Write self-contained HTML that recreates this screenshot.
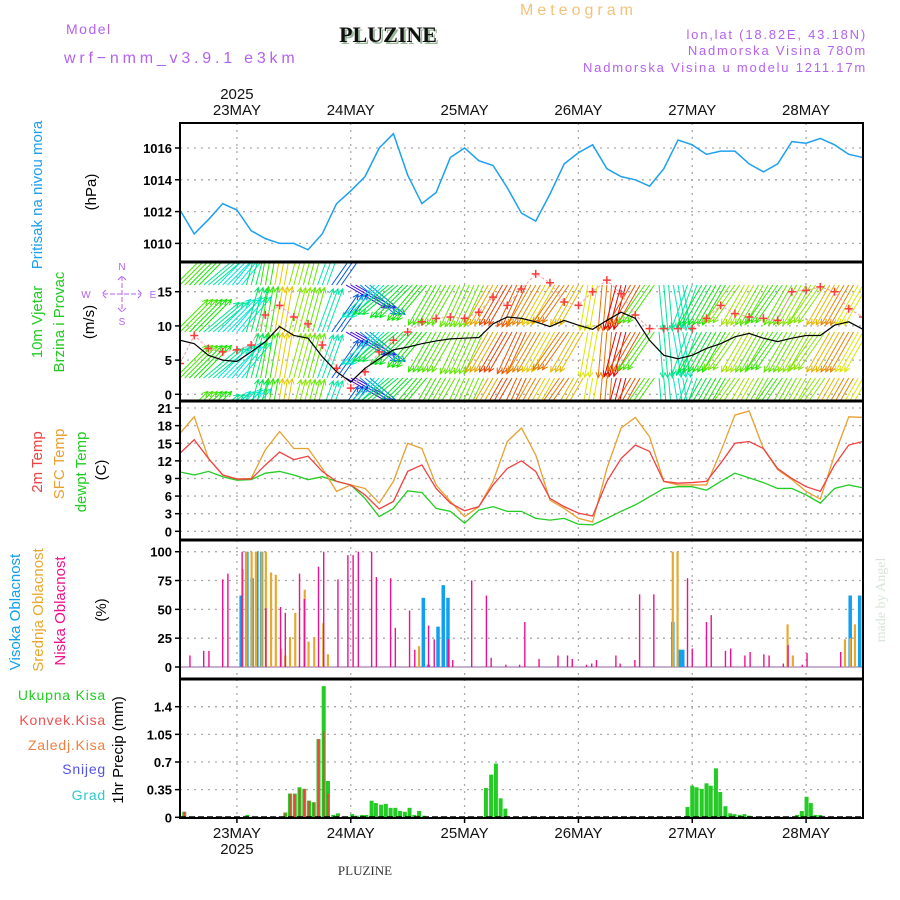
<!DOCTYPE html>
<html><head><meta charset="utf-8">
<style>
html,body{margin:0;padding:0;background:#fff;}
svg{display:block;font-family:"Liberation Sans",sans-serif;}
.nar{font-family:"Liberation Sans Narrow","Liberation Sans",sans-serif;}
</style></head>
<body>
<svg id="chart" width="900" height="900" viewBox="0 0 900 900" xmlns="http://www.w3.org/2000/svg">
  <text x="520" y="15" font-size="16" fill="#f2c27a" letter-spacing="4">Meteogram</text>
  <text x="66" y="34" font-size="14" fill="#b462f0" letter-spacing="1.5">Model</text>
  <text x="64" y="63" font-size="16" fill="#b462f0" letter-spacing="3.8">wrf−nmm_v3.9.1 e3km</text>
  <text x="390" y="44" font-size="22" font-weight="bold" font-family="Liberation Serif,serif" fill="#9ab89a" text-anchor="middle">PLUZINE</text>
  <text x="388" y="42" font-size="22" font-weight="bold" font-family="Liberation Serif,serif" fill="#111" text-anchor="middle">PLUZINE</text>
  <text x="867" y="39" font-size="13" fill="#b462f0" text-anchor="end" letter-spacing="1.8">lon,lat (18.82E, 43.18N)</text>
  <text x="867" y="55" font-size="13" fill="#b462f0" text-anchor="end" letter-spacing="1.8">Nadmorska Visina 780m</text>
  <text x="867" y="72" font-size="13" fill="#b462f0" text-anchor="end" letter-spacing="1.8">Nadmorska Visina u modelu 1211.17m</text>
  <text x="365" y="875" font-size="13" font-family="Liberation Serif,serif" fill="#333" text-anchor="middle">PLUZINE</text>
  <text transform="translate(885,600) rotate(-90)" font-size="14" font-family="Liberation Serif,serif" fill="#d8e4d8" text-anchor="middle">made by Angel</text>
  <g id="g"></g>
</svg>
<script>
const hours3 = [0,3,6,9,12,15,18,21,24,27,30,33,36,39,42,45,48,51,54,57,60,63,66,69,72,75,78,81,84,87,90,93,96,99,102,105,108,111,114,117,120,123,126,129,132,135,138,141,144];
const dayLabels = ["23MAY","24MAY","25MAY","26MAY","27MAY","28MAY"];
const dayHours = [12,36,60,84,108,132];
const pressure = [1012.1,1010.6,1011.5,1012.5,1012.1,1010.8,1010.3,1010.0,1010.0,1009.6,1010.6,1012.5,1013.3,1014.2,1016.0,1016.9,1014.3,1012.5,1013.2,1015.4,1016.0,1015.2,1014.9,1013.5,1011.9,1011.4,1013.1,1015.0,1015.7,1016.2,1014.7,1014.2,1014.0,1013.6,1014.7,1016.5,1016.2,1015.6,1015.8,1015.8,1015.0,1014.5,1015.0,1016.4,1016.3,1016.6,1016.2,1015.6,1015.4];
const windSpeed = [7.9,7.4,5.7,5.0,4.8,6.2,7.7,9.9,8.6,8.2,5.5,3.3,1.8,3.8,5.2,6.5,6.9,7.4,7.8,8.1,8.2,8.3,10.3,11.3,11.1,10.6,9.9,10.8,10.1,9.5,10.8,12.0,11.1,7.9,5.7,5.2,5.7,6.7,7.4,8.4,8.9,8.2,7.7,8.2,8.6,8.6,10.1,10.6,9.5];
const windGust = [4.5,8.6,6.7,6.2,6.5,7.2,11.6,13.0,11.3,10.3,7.2,3.8,0.9,3.3,6.2,7.9,9.1,10.6,11.1,11.3,11.1,12.0,14.2,13.0,15.4,17.6,16.3,13.5,13.0,15.0,16.7,14.7,11.6,9.6,9.6,9.6,9.6,11.1,13.0,11.8,11.3,11.1,10.8,15.0,15.2,15.7,15.0,12.5,11.3];
const windDir = [225,225,230,225,220,195,190,190,195,195,200,215,300,310,45,50,45,40,30,30,25,25,30,30,25,30,30,35,30,10,5,15,30,35,355,350,20,30,30,35,30,30,35,30,30,35,30,30,30];
const temp2m = [13.3,15.6,12.4,9.6,8.9,8.9,11.3,13.5,12.2,12.8,10.2,8.5,7.9,6.2,3.8,5.1,10.2,11.3,7.3,4.8,3.5,4.2,7.9,10.7,12.0,10.2,5.6,4.2,3.1,2.6,8.5,12.4,14.7,13.6,8.5,8.2,8.3,8.5,11.6,15.0,15.3,14.1,10.7,9.0,7.6,6.8,11.3,14.7,15.3];
const tempSfc = [16.7,19.5,12.4,9.6,8.9,9.0,13.9,17.0,14.1,14.1,10.7,6.8,7.9,7.3,4.8,8.5,15.0,14.1,7.9,5.1,2.5,4.2,8.5,15.3,17.6,13.0,5.3,3.9,2.2,1.6,10.7,17.6,19.4,16.1,8.5,7.9,7.9,7.9,13.6,19.8,20.5,14.1,10.5,8.8,6.8,5.5,13.0,19.5,19.4];
const tempDew = [10.1,9.6,10.2,9.3,8.7,8.8,9.9,10.2,9.6,8.8,9.3,8.5,7.9,5.6,2.5,3.9,6.9,6.6,3.9,3.4,1.4,3.6,4.2,3.4,3.4,2.2,1.9,2.2,1.2,1.1,2.2,3.4,4.5,5.9,7.3,7.6,7.6,7.0,8.5,9.9,9.1,8.3,7.3,7.3,6.2,4.8,7.3,7.9,7.4];
const lowCloudHours = [2.1,5.0,6.1,9.0,10.1,13.1,18.1,21.2,22.2,25.2,26.2,29.2,30.3,33.3,35.4,36.5,37.6,40.4,41.4,44.4,45.4,48.4,49.5,52.4,53.6,56.6,57.5,61.5,64.6,65.6,68.7,71.6,72.7,75.7,79.7,81.7,82.7,85.7,86.8,87.8,91.9,92.8,95.9,96.9,99.9,107.0,108.0,111.0,112.0,115.0,116.1,119.1,120.2,123.1,124.2,127.2,128.2,131.2,132.2,139.3,142.3,143.2];
const lowCloud = [10,14,14,76,81,100,51,52,47,81,59,87,100,76,97,97,100,100,78,77,34,49,15,36,24,24,6,75,62,8,2,2,39,7,10,10,7,2,3,6,10,3,6,63,63,77,16,39,45,14,16,10,13,11,10,3,19,2,12,13];
const midCloudHours = [13.2,14.0,15.1,16.0,17.2,18.1,19.2,20.2,21.3,22.2,23.2,24.3,26.3,27.1,28.3,30.2,31.2,50.4,103.9,104.9,128.1,129.2,140.2,141.3,142.3];
const midCloud = [85,100,100,100,100,100,82,80,16,10,26,47,67,22,26,38,11,18,100,100,37,10,24,25,37];
const highCloudHours = [12.9,14.1,15.2,16.2,17.2,51.3,52.4,54.4,55.5,56.5,103.9,105.3,106.0,141.3,143.3,145.0];
const highCloud = [62,100,77,100,100,60,2,35,71,60,39,15,15,62,62,100];
const precipHours = [0.9,14.2,22.2,23.2,24.2,25.2,26.2,27.2,28.2,29.2,30.3,31.2,32.3,33.3,36.3,37.3,38.4,39.3,40.4,41.3,42.4,43.4,44.4,45.4,46.4,47.4,48.4,49.4,50.4,51.4,64.5,65.6,66.6,67.6,68.6,107.0,108.0,108.9,110.0,111.0,111.9,113.0,113.9,115.0,116.0,116.9,118.0,119.0,120.0,130.1,131.1,132.1,133.0,134.0,135.0];
const precipTotal = [0.07,0.03,0.06,0.30,0.30,0.38,0.36,0.21,0.19,0.99,1.66,0.46,0.03,0.05,0.04,0.02,0.03,0.03,0.21,0.18,0.16,0.17,0.12,0.12,0.08,0.07,0.12,0.03,0.08,0.02,0.37,0.54,0.68,0.24,0.11,0.13,0.40,0.38,0.36,0.43,0.40,0.62,0.32,0.14,0.05,0.04,0.03,0.04,0.02,0.03,0.08,0.26,0.18,0.03,0.03];
const precipConv = [0.07,0,0.06,0.30,0.29,0.36,0.36,0.21,0.19,0.99,1.09,0.30,0,0.02,0,0,0,0,0,0,0,0,0,0,0,0,0,0,0.02,0,0,0,0,0,0,0,0,0,0,0,0,0,0,0,0,0,0,0,0,0,0,0,0,0,0];
const pTicks = [1010,1012,1014,1016];
const wTicks = [0,5,10,15];
const tTicks = [0,3,6,9,12,15,18,21];
const cTicks = [0,25,50,75,100];
const rTicks = [0,0.35,0.7,1.05,1.4];
const rTickLabels = ["0","0.35","0.7","1.05","1.4"];

const NS="http://www.w3.org/2000/svg";
const G=document.getElementById('g');
const L=180,R=863;
const X=t=>L+t*(R-L)/144;
const Yp=v=>148+(1016-v)*15.9;
const Yw=v=>394.3-v*6.84;
const Yt=v=>531.3-v*5.87;
const Yc=v=>667-v*1.153;
const Yr=v=>817.3-v*79;
function mk(tag,at,parent){const e=document.createElementNS(NS,tag);for(const k in at)e.setAttribute(k,at[k]);(parent||G).appendChild(e);return e;}
function txt(s,at,parent){const e=mk('text',at,parent);e.textContent=s;return e;}

const panels=[[123,262,'pressure'],[262,401,'wind'],[401,540,'temperature'],[540,679,'cloud'],[679,818,'precip']];
const defs=mk('defs',{});
panels.forEach(p=>{const c=mk('clipPath',{id:'clip-'+p[2]},defs);mk('rect',{x:L,y:p[0],width:R-L,height:p[1]-p[0]},c);});

panels.forEach(p=>{
  dayHours.forEach(h=>{
    const ln=mk('line',{x1:X(h),x2:X(h),y1:p[0],y2:p[1],stroke:'#aaa','stroke-width':1.3,'stroke-dasharray':'2,5'});
    
    
  });
});
function hgrid(ticks,Y,lab,name,fmt){
  ticks.forEach((v,i)=>{
    const y=Y(v);
    const g=mk('line',{x1:L,x2:R,y1:y,y2:y,stroke:'#aaa','stroke-width':1.3,'stroke-dasharray':'2,5'});
    
    
    mk('line',{x1:L-5,x2:L,y1:y,y2:y,stroke:'#000','stroke-width':1.5});
    const t=txt(fmt?fmt[i]:String(v),{x:L-8,y:y+5,'font-size':13,'font-weight':'bold','text-anchor':'end',fill:'#000'});
    
    
  });
}
hgrid(pTicks,Yp,null,'pressure');
hgrid(wTicks,Yw,null,'wind');
hgrid(tTicks,Yt,null,'temperature');
hgrid(cTicks,Yc,null,'cloud');
hgrid(rTicks,Yr,null,'precip',rTickLabels);

dayHours.forEach((h,i)=>{
  const a=txt(dayLabels[i],{x:X(h),y:115,'font-size':15,'text-anchor':'middle',fill:'#111',class:'nar'});
  
  
  const b=txt(dayLabels[i],{x:X(h),y:838,'font-size':15,'text-anchor':'middle',fill:'#111',class:'nar'});
  
  
  mk('line',{x1:X(h),x2:X(h),y1:818,y2:823,stroke:'#000','stroke-width':1.5});
});
const y1=txt('2025',{x:X(12),y:99,'font-size':15,'text-anchor':'middle',fill:'#111',class:'nar'});


const y2=txt('2025',{x:X(12),y:854,'font-size':15,'text-anchor':'middle',fill:'#111',class:'nar'});



const pl=mk('polyline',{points:hours3.map((h,i)=>X(h)+','+Yp(pressure[i])).join(' '),fill:'none',stroke:'#1ea0f0','stroke-width':1.5,'clip-path':'url(#clip-pressure)'});



const wg=mk('g',{'clip-path':'url(#clip-wind)'});


const rows=[285,332,378,424];
hours3.forEach((h,i)=>{
  const hue=((300-25*windSpeed[i])%360+360)%360;
  const col='hsl('+hue+',100%,45%)';
  const th=((windDir[i]+180)%360)*Math.PI/180;
  const len=46;
  const dx=len*Math.sin(th),dy=-len*Math.cos(th);
  for(let j=-1;j<=1;j++){
    const x0=X(h+j);
    rows.forEach(b=>{
      const x1=x0+dx,y1=b+dy;
      const a=mk('line',{x1:x0,y1:b,x2:x1,y2:y1,stroke:col,'stroke-width':1},wg);
      
      
      const hl=6,ang=Math.atan2(dy,dx);
      mk('path',{d:'M'+(x1-hl*Math.cos(ang-0.45))+','+(y1-hl*Math.sin(ang-0.45))+'L'+x1+','+y1+'L'+(x1-hl*Math.cos(ang+0.45))+','+(y1-hl*Math.sin(ang+0.45)),fill:'none',stroke:col,'stroke-width':1},wg);
    });
  }
});
const gl=mk('polyline',{points:hours3.map((h,i)=>X(h)+','+Yw(windGust[i])).join(' '),fill:'none',stroke:'#f5a0a0','stroke-width':1,'stroke-dasharray':'3,2','clip-path':'url(#clip-wind)'});


hours3.forEach((h,i)=>{
  const x=X(h),y=Yw(windGust[i]);
  const c=mk('path',{d:'M'+(x-4)+','+y+'h8M'+x+','+(y-4)+'v8',stroke:'#ff3a3a','stroke-width':1.5,'clip-path':'url(#clip-wind)'});
  
  
});
const wl=mk('polyline',{points:hours3.map((h,i)=>X(h)+','+Yw(windSpeed[i])).join(' '),fill:'none',stroke:'#000','stroke-width':1.2,'clip-path':'url(#clip-wind)'});



[[tempDew,'#22cc22','dewpoint-line'],[tempSfc,'#e8a030','surface-temp-line'],[temp2m,'#f04040','temp-2m-line']].forEach(s=>{
  const e=mk('polyline',{points:hours3.map((h,i)=>X(h)+','+Yt(s[0][i])).join(' '),fill:'none',stroke:s[1],'stroke-width':1.3,'clip-path':'url(#clip-temperature)'});
  
  
});

mk('line',{x1:L,x2:R,y1:Yc(0),y2:Yc(0),stroke:'#c8b0d0','stroke-width':2});
[[highCloudHours,highCloud,'#10a0f0',3.5,'high-cloud-bar'],[midCloudHours,midCloud,'#e8a830',2.2,'mid-cloud-bar'],[lowCloudHours,lowCloud,'#f0108c',1.4,'low-cloud-bar']].forEach(s=>{
  s[0].forEach((h,i)=>{
    const y=Yc(s[1][i]);
    const r=mk('rect',{x:X(h)-s[3]/2,y:y,width:s[3],height:Yc(0)-y,fill:s[2],'clip-path':'url(#clip-cloud)'});
    
    
  });
});

precipHours.forEach((h,i)=>{
  const y=Yr(precipTotal[i]);
  const r=mk('rect',{x:X(h)-2,y:y,width:4,height:Yr(0)-y,fill:'#22cc22'});
  
  
  if(precipConv[i]>0){
    const yc=Yr(precipConv[i]);
    const c=mk('rect',{x:X(h)-0.8,y:yc,width:1.6,height:Yr(0)-yc,fill:'#f04040'});
    
    
  }
});
mk('line',{x1:L,x2:R,y1:817,y2:817,stroke:'#000','stroke-width':1.5,'stroke-dasharray':'6,3'});

panels.forEach(p=>{
  const f=mk('rect',{x:L,y:p[0],width:R-L,height:p[1]-p[0],fill:'none',stroke:'#000','stroke-width':2});
  
  
});
[262,401,540,679].forEach(y=>mk('line',{x1:L,x2:R,y1:y,y2:y,stroke:'#000','stroke-width':3}));

function rot(s,x,y,col,name,size){
  const t=txt(s,{transform:'translate('+x+','+y+') rotate(-90)','font-size':size||15,'text-anchor':'middle',fill:col,class:'nar'});
  
  
}
rot('Pritisak na nivou mora',42,195,'#1ea0f0','pressure-axis-title',15);
rot('(hPa)',96,192,'#000','pressure-unit',15);
rot('10m Vjetar',42,322,'#22cc22','wind-axis-title',15);
rot('Brzina i Provac',64,322,'#22cc22','wind-axis-subtitle',15);
rot('(m/s)',94,322,'#000','wind-unit',15);
rot('2m Temp',42,462,'#f04040','temp-2m-legend',15);
rot('SFC Temp',64,464,'#e8a030','sfc-temp-legend',15);
rot('dewpt Temp',86,472,'#22cc22','dewpoint-legend',15);
rot('(C)',106,470,'#000','temp-unit',15);
rot('Visoka Oblacnost',20,612,'#10a0f0','high-cloud-legend',15);
rot('Srednja Oblacnost',43,610,'#e8a830','mid-cloud-legend',15);
rot('Niska Oblacnost',65,611,'#f0108c','low-cloud-legend',15);
rot('(%)',106,610,'#000','cloud-unit',15);
rot('1hr Precip (mm)',123,750,'#000','precip-axis-title',15);
[['Ukupna Kisa','#22cc22',700,'total-precip-legend'],['Konvek.Kisa','#f05050',725,'convective-precip-legend'],['Zaledj.Kisa','#f08040',750,'freezing-precip-legend'],['Snijeg','#5050f0',774,'snow-legend'],['Grad','#30c8d0',800,'hail-legend']].forEach(a=>{
  const t=txt(a[0],{x:106,y:a[2],'font-size':14,'text-anchor':'end',fill:a[1],'letter-spacing':'0.8'});
  
  
});
const cg=mk('g',{fill:'#b462f0','font-size':10,'text-anchor':'middle'});


txt('N',{x:122,y:270},cg);txt('S',{x:122,y:325},cg);txt('W',{x:86,y:298},cg);txt('E',{x:153,y:298},cg);
mk('path',{d:'M103,294h38M122,276v36M106,290l-4,4l4,4M138,290l4,4l-4,4M118,280l4,-4l4,4M118,308l4,4l4,-4',stroke:'#b462f0','stroke-width':1,fill:'none','stroke-dasharray':'5,2'},cg);
</script>
</body></html>
